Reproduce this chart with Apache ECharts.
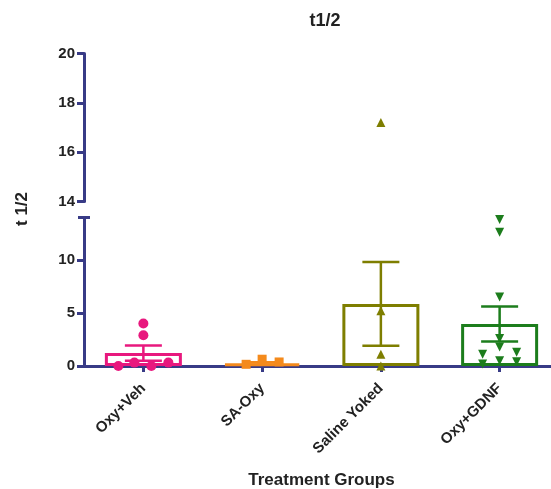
<!DOCTYPE html>
<html><head><meta charset="utf-8">
<script src="https://cdn.jsdelivr.net/npm/echarts@6/dist/echarts.min.js"></script>
<style>html,body{margin:0;padding:0;background:#fff}#c{width:551px;height:489px}</style>
</head><body><div id="c"></div>
<script>
// ---- data ----
const categories = ['Oxy+Veh', 'SA-Oxy', 'Saline Yoked', 'Oxy+GDNF'];
const means = [1.22, 0.25, 5.85, 3.95];
const sems = [0.72, 0.10, 3.95, 1.65];
const ptsOxyVeh = [0, 0.32, 0, 0.32, 2.9, 4.0];
const ptsSAOxy = [0.16, 0.64, 0.38];
const ptsSalineYoked = [17.2, 5.2, 1.1, 0];
const ptsOxyGDNF = [13.8, 12.6, 6.5, 2.6, 1.8, 1.1, 0.2, 0.5, 1.3, 0.4];
const lowerRange = [0, 14, 5];   // min, max, interval
const upperRange = [14, 20, 2];
const breakAt = 14;

// ---- styles ----
const colors = ['#e8187e', '#f48a1c', '#7e7e00', '#1c7d1c'];
const symbols = ['circle', 'rect', 'triangle', 'triangle'];
const symbolRot = [0, 0, 0, 180];
const jitter = [[-25, -9, 8, 25, 0, 0], [-16, 0, 17], [0, 0, 0, 0], [0, 0, 0, 0, 0, -17, -17, 0, 17, 17]];
const axisColor = '#383b86';
const textColor = '#222';
const FONT = 'Liberation Sans, Arial, sans-serif';
const gridLeft = 84, gridWidth = 475;

const allPts = [ptsOxyVeh, ptsSAOxy, ptsSalineYoked, ptsOxyGDNF];

const chart = echarts.init(document.getElementById('c'), null, {renderer: 'canvas'});

const scatterSeries = [];
allPts.forEach((pts, g) => {
  const lower = [], upper = [];
  pts.forEach((v, i) => {
    const item = {value: [g, v], symbolOffset: [jitter[g][i], 0]};
    (v > breakAt ? upper : lower).push(item);
  });
  [[lower, 1], [upper, 0]].forEach(([d, idx]) => {
    scatterSeries.push({
      type: 'scatter', xAxisIndex: idx, yAxisIndex: idx, data: d,
      symbol: symbols[g], symbolRotate: symbolRot[g], symbolSize: g === 0 ? 10 : 9,
      itemStyle: {color: colors[g], opacity: 1}, z: 5, silent: true
    });
  });
});

const yAxisCommon = {
  type: 'value',
  axisLine: {show: true, lineStyle: {color: axisColor, width: 3}},
  axisTick: {show: true, length: 7, lineStyle: {color: axisColor, width: 3}},
  axisLabel: {color: textColor, fontWeight: 'bold', fontSize: 15, fontFamily: FONT, margin: 9},
  splitLine: {show: false}
};

const option = {
  animation: false,
  backgroundColor: '#fff',
  title: {
    text: 't1/2', left: 320, top: 7, textAlign: 'center',
    textStyle: {fontSize: 18, fontWeight: 'bold', color: textColor, fontFamily: FONT}
  },
  grid: [
    {left: gridLeft, width: gridWidth, top: 53.5, height: 148, outerBoundsMode: 'none', containLabel: false},
    {left: gridLeft, width: gridWidth, top: 217.5, height: 148.5, outerBoundsMode: 'none', containLabel: false}
  ],
  xAxis: [
    {type: 'category', gridIndex: 0, data: categories, show: false},
    {
      type: 'category', gridIndex: 1, data: categories,
      axisLine: {show: true, lineStyle: {color: axisColor, width: 3}},
      axisTick: {show: true, alignWithLabel: true, length: 6, lineStyle: {color: axisColor, width: 3}},
      axisLabel: {rotate: 45, color: textColor, fontWeight: 'bold', fontSize: 15, fontFamily: FONT, margin: 20, interval: 0},
      name: 'Treatment Groups', nameLocation: 'middle', nameGap: 106,
      nameTextStyle: {color: textColor, fontWeight: 'bold', fontSize: 17, fontFamily: FONT}
    }
  ],
  yAxis: [
    Object.assign({}, yAxisCommon, {gridIndex: 0, min: upperRange[0], max: upperRange[1], interval: upperRange[2]}),
    Object.assign({}, yAxisCommon, {gridIndex: 1, min: lowerRange[0], max: lowerRange[1], interval: lowerRange[2],
      axisLabel: Object.assign({}, yAxisCommon.axisLabel, {showMaxLabel: false})})
  ],
  series: [
    {
      type: 'bar', xAxisIndex: 1, yAxisIndex: 1, barWidth: 77,
      data: means.map((m, i) => ({value: m, itemStyle: {color: 'rgba(255,255,255,0)', borderColor: colors[i], borderWidth: 3}})),
      z: 2, silent: true
    },
    {
      type: 'custom', xAxisIndex: 1, yAxisIndex: 1, z: 3, silent: true,
      data: means.map((m, i) => [i, m, sems[i]]),
      encode: {x: 0, y: 1},
      renderItem: function (params, api) {
        const i = api.value(0), m = api.value(1), s = api.value(2);
        const top = api.coord([i, m + s]);
        const bot = api.coord([i, m - s]);
        const hw = 18.5;
        const st = {stroke: colors[i], lineWidth: 2.5, fill: null};
        return {
          type: 'group', children: [
            {type: 'line', shape: {x1: top[0], y1: top[1], x2: bot[0], y2: bot[1]}, style: st},
            {type: 'line', shape: {x1: top[0] - hw, y1: top[1], x2: top[0] + hw, y2: top[1]}, style: st},
            {type: 'line', shape: {x1: bot[0] - hw, y1: bot[1], x2: bot[0] + hw, y2: bot[1]}, style: st}
          ]
        };
      }
    }
  ].concat(scatterSeries)
};
chart.setOption(option);

// break cap on top of lower axis segment + rotated y-axis title
const capY = chart.convertToPixel({yAxisIndex: 1}, breakAt);
chart.setOption({
  graphic: [
    {type: 'line', shape: {x1: gridLeft - 6, y1: capY, x2: gridLeft + 6, y2: capY},
     style: {stroke: axisColor, lineWidth: 3}, z: 10},
    {type: 'text', x: 22, y: 209, rotation: Math.PI / 2,
     style: {text: 't 1/2', fill: textColor, font: 'bold 17px ' + FONT, textAlign: 'center', textVerticalAlign: 'middle'}}
  ]
});
</script>
</body></html>
